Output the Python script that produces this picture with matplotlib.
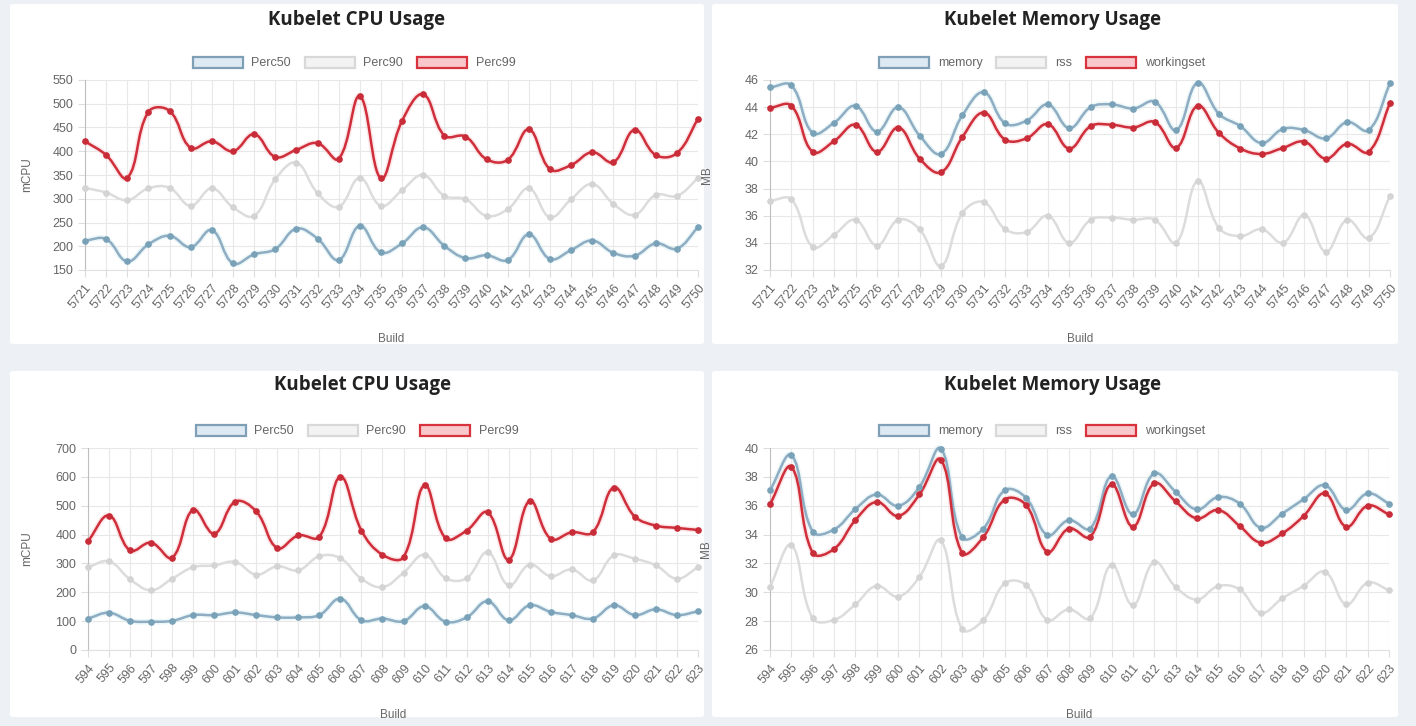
import numpy as np
import matplotlib.pyplot as plt
from matplotlib.path import Path
from matplotlib.patches import PathPatch, Patch, FancyBboxPatch

W, H = 1416, 726

# ---- data ----
builds_a = ['5721', '5722', '5723', '5724', '5725', '5726', '5727', '5728', '5729', '5730',
            '5731', '5732', '5733', '5734', '5735', '5736', '5737', '5738', '5739', '5740',
            '5741', '5742', '5743', '5744', '5745', '5746', '5747', '5748', '5749', '5750']
builds_b = ['594', '595', '596', '597', '598', '599', '600', '601', '602', '603',
            '604', '605', '606', '607', '608', '609', '610', '611', '612', '613',
            '614', '615', '616', '617', '618', '619', '620', '621', '622', '623']

cpu_a_p50 = [212, 215, 168, 204, 222, 198, 234, 164, 183, 194, 237, 216, 171, 243, 187,
             206, 240, 201, 175, 181, 171, 225, 173, 192, 212, 186, 180, 206, 195, 240]
cpu_a_p90 = [323, 313, 297, 322, 323, 285, 322, 282, 264, 341, 376, 312, 283, 344, 285,
             318, 350, 306, 299, 264, 278, 322, 261, 299, 331, 289, 266, 308, 306, 343]
cpu_a_p99 = [421, 392, 344, 483, 485, 407, 421, 400, 436, 388, 403, 417, 384, 516, 343,
             464, 520, 433, 431, 383, 382, 446, 362, 371, 398, 377, 445, 392, 396, 468]

mem_a_memory = [45.45, 45.6, 42.1, 42.85, 44.1, 42.2, 44.0, 41.9, 40.55, 43.4, 45.1, 42.8,
                43.0, 44.2, 42.45, 44.0, 44.2, 43.9, 44.4, 42.3, 45.8, 43.5, 42.6, 41.35,
                42.4, 42.3, 41.7, 42.9, 42.3, 45.75]
mem_a_rss = [37.1, 37.2, 33.7, 34.6, 35.7, 33.8, 35.7, 35.0, 32.3, 36.2, 37.0, 35.0, 34.8,
             36.0, 34.0, 35.7, 35.85, 35.7, 35.7, 34.0, 38.55, 35.1, 34.5, 35.0, 34.0, 36.05,
             33.35, 35.7, 34.35, 37.45]
mem_a_ws = [43.95, 44.1, 40.7, 41.5, 42.7, 40.7, 42.5, 40.2, 39.2, 41.8, 43.6, 41.6, 41.7,
            42.75, 40.95, 42.6, 42.7, 42.5, 42.9, 41.0, 44.1, 42.1, 40.95, 40.55, 41.0,
            41.45, 40.2, 41.3, 40.7, 44.3]

cpu_b_p50 = [109, 129, 101, 98, 101, 121, 121, 130, 121, 113, 113, 121, 178, 103, 109,
             100, 152, 98, 113, 169, 103, 155, 132, 121, 109, 155, 121, 141, 121, 134]
cpu_b_p90 = [287, 307, 245, 207, 247, 287, 293, 305, 261, 290, 276, 325, 318, 247, 218,
             268, 330, 249, 249, 339, 224, 296, 256, 279, 241, 328, 316, 293, 247, 287]
cpu_b_p99 = [377, 466, 345, 372, 320, 486, 403, 514, 480, 353, 397, 392, 600, 414, 330,
             322, 571, 387, 414, 477, 313, 517, 385, 408, 408, 563, 462, 431, 423, 416]

mem_b_memory = [37.07, 39.5, 34.2, 34.35, 35.76, 36.78, 35.99, 37.3, 39.96, 33.8, 34.42,
                37.07, 36.54, 33.96, 35.0, 34.42, 38.05, 35.4, 38.24, 36.97, 35.74, 36.6,
                36.15, 34.47, 35.45, 36.45, 37.42, 35.7, 36.85, 36.15]
mem_b_rss = [30.38, 33.27, 28.2, 28.08, 29.16, 30.45, 29.7, 31.07, 33.6, 27.43, 28.08,
             30.62, 30.5, 28.08, 28.82, 28.2, 31.9, 29.1, 32.1, 30.38, 29.5, 30.43, 30.2,
             28.58, 29.58, 30.45, 31.42, 29.16, 30.66, 30.15]
mem_b_ws = [36.1, 38.69, 32.73, 33.0, 35.0, 36.26, 35.29, 36.78, 39.2, 32.73, 33.84, 36.43,
            36.04, 32.8, 34.42, 33.84, 37.48, 34.54, 37.55, 36.3, 35.12, 35.7, 34.6, 33.43,
            34.08, 35.29, 36.85, 34.54, 36.0, 35.4]

cpu_labels = ['Perc50', 'Perc90', 'Perc99']
mem_labels = ['memory', 'rss', 'workingset']

# line, marker, legend edge, legend face, halo
BLUE = dict(line='#8fadc2', marker='#79a2b8', edge='#7f9fb7', face='#dde9f3', halo='#d3eef2')
GREY = dict(line='#dcdcdc', marker='#d4d4d4', edge='#d8d8d8', face='#f3f3f3', halo=None)
RED = dict(line='#cf2f3b', marker='#c82c38', edge='#d8323d', face='#f8c8cc', halo='#f9c9cd')
styles = [BLUE, GREY, RED]

plt.rcParams['font.family'] = ['Liberation Sans', 'DejaVu Sans']
TXT = '#666666'


def spline_path(ax, ys, tension=0.4):
    # bezier through the points, control points worked out in pixel space
    pos = ax.get_position()
    x0, x1 = ax.get_xlim()
    y0, y1 = ax.get_ylim()
    sx = pos.width * W / (x1 - x0)
    sy = pos.height * H / (y1 - y0)
    n = len(ys)
    px = (np.arange(n) - x0) * sx
    py = (np.asarray(ys, float) - y0) * sy
    cps = []
    for i in range(n):
        a, b = max(i - 1, 0), min(i + 1, n - 1)
        d01 = np.hypot(px[i] - px[a], py[i] - py[a])
        d12 = np.hypot(px[b] - px[i], py[b] - py[i])
        tot = d01 + d12
        s01 = d01 / tot if tot else 0
        s12 = d12 / tot if tot else 0
        dx, dy = px[b] - px[a], py[b] - py[a]
        cps.append(((px[i] - tension * s01 * dx, py[i] - tension * s01 * dy),
                    (px[i] + tension * s12 * dx, py[i] + tension * s12 * dy)))
    verts = [(px[0], py[0])]
    codes = [Path.MOVETO]
    for i in range(n - 1):
        verts += [cps[i][1], cps[i + 1][0], (px[i + 1], py[i + 1])]
        codes += [Path.CURVE4] * 3
    verts = np.array(verts)
    verts[:, 0] = verts[:, 0] / sx + x0
    verts[:, 1] = verts[:, 1] / sy + y0
    return Path(verts, codes)


def panel(rect, title, title_x, title_y, leg_xy, builds, series, labels, ylim, yticks,
          ylabel, ylabel_x, xlabel_y):
    ax = fig.add_axes(rect)
    ax.set_xlim(0, len(builds) - 1)
    ax.set_ylim(*ylim)
    ax.set_yticks(yticks)
    ax.set_xticks(range(len(builds)))
    ax.set_xticklabels(builds, rotation=50, ha='right', rotation_mode='anchor')
    ax.tick_params(labelsize=9, colors=TXT, length=5, width=0.8)
    ax.tick_params(axis='both', color='#dddddd')
    ax.grid(True, color='#e8e8e8', lw=0.8)
    ax.set_axisbelow(True)
    for s in ['top', 'right']:
        ax.spines[s].set_visible(False)
    ax.spines['left'].set_color('#bfbfbf')
    ax.spines['bottom'].set_color('#e0e0e0')
    ax.set_ylabel(ylabel, fontsize=8.5, color=TXT)
    ax.yaxis.set_label_coords(ylabel_x, 0.5)
    ax.set_xlabel('Build', fontsize=8.5, color=TXT)
    ax.xaxis.set_label_coords(0.5, xlabel_y)

    x = np.arange(len(builds))
    for ys, st in zip([series[1], series[0], series[2]], [styles[1], styles[0], styles[2]]):
        path = spline_path(ax, ys)
        if st['halo']:
            ax.add_patch(PathPatch(path, fill=False, edgecolor=st['halo'], lw=4.0,
                                   alpha=0.45, clip_on=False, zorder=2))
        ax.add_patch(PathPatch(path, fill=False, edgecolor=st['line'], lw=1.8,
                               clip_on=False, zorder=3))
        ax.plot(x, ys, 'o', ms=3.8, color=st['marker'], mec=st['marker'],
                clip_on=False, zorder=4)

    handles = [Patch(facecolor=st['face'], edgecolor=st['edge'], lw=1.6) for st in styles]
    fig.legend(handles, labels, loc='center', bbox_to_anchor=leg_xy, ncol=3,
               frameon=False, fontsize=9, labelcolor=TXT, handlelength=4.0,
               handleheight=1.0, handletextpad=0.7, columnspacing=1.1)
    fig.text(title_x, title_y, title, ha='center', va='center', fontsize=13.5,
             fontweight='bold', color='#222222', family=['Open Sans', 'DejaVu Sans'])
    return ax


fig = plt.figure(figsize=(W / 100, H / 100), dpi=100)
fig.patch.set_facecolor('#edf1f6')

# white cards behind each chart (pixel boxes: x0, y0, x1, y1 from the top-left)
for x0, y0, x1, y1 in [(10, 4, 704, 344), (712, 4, 1398, 344),
                       (10, 371, 704, 717), (712, 371, 1398, 717)]:
    fig.add_artist(FancyBboxPatch((x0 / W, 1 - y1 / H), (x1 - x0) / W, (y1 - y0) / H,
                                  boxstyle='round,pad=0,rounding_size=0.003',
                                  transform=fig.transFigure, facecolor='white',
                                  edgecolor='none', zorder=0))

panel([85 / W, 1 - 270 / H, 613 / W, 190 / H], 'Kubelet CPU Usage', 357 / W, 1 - 20 / H,
      (354 / W, 1 - 63 / H), builds_a, [cpu_a_p50, cpu_a_p90, cpu_a_p99], cpu_labels,
      (150, 550), range(150, 551, 50), 'mCPU', -0.085, -0.33)
panel([770 / W, 1 - 270 / H, 620 / W, 190 / H], 'Kubelet Memory Usage', 1052 / W, 1 - 20 / H,
      (1042 / W, 1 - 63 / H), builds_a, [mem_a_memory, mem_a_rss, mem_a_ws], mem_labels,
      (32, 46), range(32, 47, 2), 'MB', -0.092, -0.33)
panel([88 / W, 1 - 650 / H, 610 / W, 202 / H], 'Kubelet CPU Usage', 363 / W, 1 - 385 / H,
      (357 / W, 1 - 431 / H), builds_b, [cpu_b_p50, cpu_b_p90, cpu_b_p99], cpu_labels,
      (0, 700), range(0, 701, 100), 'mCPU', -0.09, -0.29)
panel([770 / W, 1 - 650 / H, 619 / W, 202 / H], 'Kubelet Memory Usage', 1052 / W, 1 - 385 / H,
      (1042 / W, 1 - 431 / H), builds_b, [mem_b_memory, mem_b_rss, mem_b_ws], mem_labels,
      (26, 40), range(26, 41, 2), 'MB', -0.094, -0.29)

fig.savefig('out.png', dpi=100, facecolor=fig.get_facecolor())
